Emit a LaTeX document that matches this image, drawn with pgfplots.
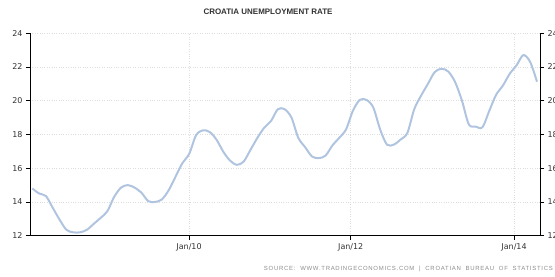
\documentclass[border=0pt]{standalone}
\usepackage{pgfplots}
\pgfplotsset{compat=1.18}
\usepackage{fontspec}
\setmainfont{DejaVu Sans}
\newfontfamily\titlefont{Liberation Sans}
\newfontfamily\srcfont[LetterSpace=12]{Liberation Sans}
\definecolor{lineblue}{RGB}{176,196,224}
\definecolor{gridgray}{RGB}{222,222,222}
\definecolor{labgray}{RGB}{50,50,50}
\definecolor{srcgray}{RGB}{140,140,140}
\pgfplotsset{
  common/.style={
    scale only axis, width=510bp, height=202.4bp,
    at={(0,0)}, anchor=south west,
    xmin=-0.34, xmax=74.44, ymin=12, ymax=24,
    ytick={12,14,...,24},
    tick align=outside, major tick length=4bp,
    tick style={black, line width=0.6bp},
    axis line style={black, line width=0.9bp, -},
    tick label style={font=\fontsize{8}{9}\selectfont, text=labgray},
    /pgf/number format/assume math mode=true,
  }
}
\begin{document}
\begin{tikzpicture}
\begin{axis}[common,
  axis x line*=bottom, axis y line*=left,
  xtick={22.98,46.69,70.63},
  xticklabels={Jan/10,Jan/12,Jan/14},
  grid=major, major grid style={dotted, gridgray, line width=0.7bp},
]
\addplot[lineblue, line width=2bp, smooth, tension=0.5] coordinates {
(0,14.8) (1,14.5) (2,14.35) (3,13.65) (4,12.95) (5,12.35) (6,12.2) (7,12.2)
(8,12.35) (9,12.7) (10,13.05) (11,13.45) (12,14.3) (13,14.85) (14,15.0) (15,14.85)
(16,14.55) (17,14.05) (18,14.0) (19,14.15) (20,14.7) (21,15.5) (22,16.3) (23,16.85)
(24,17.95) (25,18.25) (26,18.15) (27,17.7) (28,16.98) (29,16.45) (30,16.2) (31,16.4)
(32,17.1) (33,17.8) (34,18.4) (35,18.8) (36,19.5) (37,19.5) (38,19.0) (39,17.8)
(40,17.25) (41,16.7) (42,16.6) (43,16.75) (44,17.35) (45,17.8) (46,18.3) (47,19.4)
(48,20.05) (49,20.05) (50,19.6) (51,18.3) (52,17.4) (53,17.4) (54,17.7) (55,18.1)
(56,19.5) (57,20.3) (58,21.0) (59,21.7) (60,21.9) (61,21.73) (62,21.1) (63,20.0)
(64,18.6) (65,18.47) (66,18.43) (67,19.4) (68,20.35) (69,20.9) (70,21.6) (71,22.1)
(72,22.71) (73,22.3) (74,21.13)
};
\end{axis}
\begin{axis}[common,
  axis x line=none, axis y line*=right,
]
\addplot[draw=none] coordinates {(0,12)};
\end{axis}
\node[font=\titlefont\bfseries\fontsize{8}{9}\selectfont, text=labgray] at (238bp,223.7bp) {CROATIA UNEMPLOYMENT RATE};
\node[font=\srcfont\fontsize{6}{7}\selectfont, text=srcgray, anchor=east, inner sep=0pt] at (523bp,-33.3bp) {SOURCE:\ \ WWW.TRADINGECONOMICS.COM\ \ |\ \ CROATIAN\ \ BUREAU\ \ OF\ \ STATISTICS};
\pgfresetboundingbox
\useasboundingbox (-30bp,-41.3bp) rectangle (525bp,235.7bp);
\end{tikzpicture}
\end{document}
